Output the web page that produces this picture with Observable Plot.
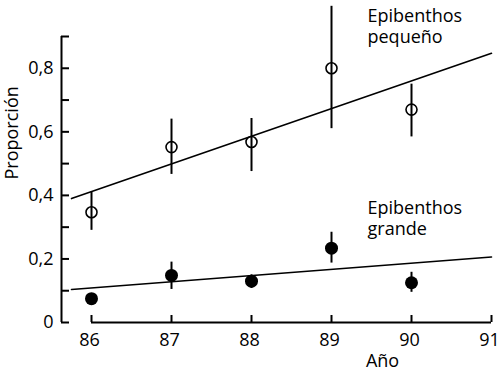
<!DOCTYPE html>
<html>
<head>
<meta charset="utf-8">
<script src="https://cdn.jsdelivr.net/npm/d3@7"></script>
<script src="https://cdn.jsdelivr.net/npm/@observablehq/plot@0.6"></script>
<style>
  html, body { margin: 0; padding: 0; background: #fff; }
</style>
</head>
<body>
<div id="chart"></div>
<script>
const years = [86, 87, 88, 89, 90];
const smallMean = [0.347, 0.552, 0.568, 0.80, 0.67];
const smallLow  = [0.29, 0.466, 0.475, 0.61, 0.584];
const smallHigh = [0.41, 0.64, 0.642, 0.995, 0.75];
const largeMean = [0.075, 0.148, 0.13, 0.234, 0.125];
const largeLow  = [0.07, 0.104, 0.107, 0.187, 0.095];
const largeHigh = [0.08, 0.19, 0.15, 0.284, 0.158];
const fitYears = [85.75, 91];
const smallFit = [0.39, 0.847];
const largeFit = [0.104, 0.206];
const xTicks = [86, 87, 88, 89, 90, 91];
const yTicks = [0, 0.2, 0.4, 0.6, 0.8];
const yTickLabels = ["0", "0,2", "0,4", "0,6", "0,8"];
const yMinorTicks = [0.1, 0.3, 0.5, 0.7, 0.9];
const seriesLabels = ["Epibenthos\npequeño", "Epibenthos\ngrande"];
const labelAnchors = [{x: 89.45, y: 0.935}, {x: 89.45, y: 0.33}];

const small = years.map((yr, i) => ({year: yr, mean: smallMean[i], lo: smallLow[i], hi: smallHigh[i]}));
const large = years.map((yr, i) => ({year: yr, mean: largeMean[i], lo: largeLow[i], hi: largeHigh[i]}));
const smallLine = fitYears.map((x, i) => ({x, y: smallFit[i]}));
const largeLine = fitYears.map((x, i) => ({x, y: largeFit[i]}));
const labels = seriesLabels.map((t, i) => ({text: t, ...labelAnchors[i]}));

const W = 500, H = 378, ML = 61, MR = 9, MT = 36, MB = 56;
const frameW = W - ML - MR, frameH = H - MT - MB;

const chart = Plot.plot({
  width: W, height: H,
  marginLeft: ML, marginRight: MR, marginTop: MT, marginBottom: MB,
  style: {fontFamily: "'Open Sans', sans-serif", fontSize: "18px", color: "black", background: "white"},
  x: {domain: [85.625, 91], axis: null},
  y: {domain: [0, 0.9], axis: null},
  marks: [
    // y axis line
    Plot.ruleX([85.625], {y1: 0, y2: 0.9, stroke: "black", strokeWidth: 2}),
    // y ticks (inward)
    Plot.tickY([...yTicks, ...yMinorTicks], {y: d => d, stroke: "black", strokeWidth: 2, insetRight: frameW - 8}),
    // x axis line
    Plot.ruleY([0], {x1: xTicks[0], x2: xTicks[xTicks.length - 1], stroke: "black", strokeWidth: 2}),
    // x ticks (inward)
    Plot.tickX(xTicks, {x: d => d, stroke: "black", strokeWidth: 2, insetTop: frameH - 7}),
    Plot.axisY({ticks: yTicks, tickSize: 0, tickPadding: 8, tickFormat: d => yTickLabels[yTicks.indexOf(d)], label: null, fontSize: 18}),
    Plot.axisX({ticks: xTicks, tickSize: 0, tickPadding: 11, dx: -2, tickFormat: d => String(d), label: null, fontSize: 18}),
    Plot.text(["Proporción"], {frameAnchor: "left", rotate: -90, dx: -49, fontSize: 18, fill: "black"}),
    Plot.text(["Año"], {frameAnchor: "bottom", dx: 106, dy: 44, fontSize: 18, fill: "black"}),
    // regression lines
    Plot.line(smallLine, {x: "x", y: "y", stroke: "black", strokeWidth: 1.6}),
    Plot.line(largeLine, {x: "x", y: "y", stroke: "black", strokeWidth: 1.6}),
    // error bars
    Plot.ruleX(small, {x: "year", y1: "lo", y2: "hi", stroke: "black", strokeWidth: 2}),
    Plot.ruleX(large, {x: "year", y1: "lo", y2: "hi", stroke: "black", strokeWidth: 2}),
    // points
    Plot.dot(small, {x: "year", y: "mean", r: 5.5, stroke: "black", strokeWidth: 1.6, fill: "none"}),
    Plot.dot(large, {x: "year", y: "mean", r: 6.5, fill: "black", stroke: "none"}),
    // annotations
    Plot.text(labels, {x: "x", y: "y", text: "text", textAnchor: "start", lineAnchor: "middle", lineHeight: 1.17, fontSize: 18, fill: "black"})
  ]
});
document.getElementById("chart").appendChild(chart);
</script>
</body>
</html>
